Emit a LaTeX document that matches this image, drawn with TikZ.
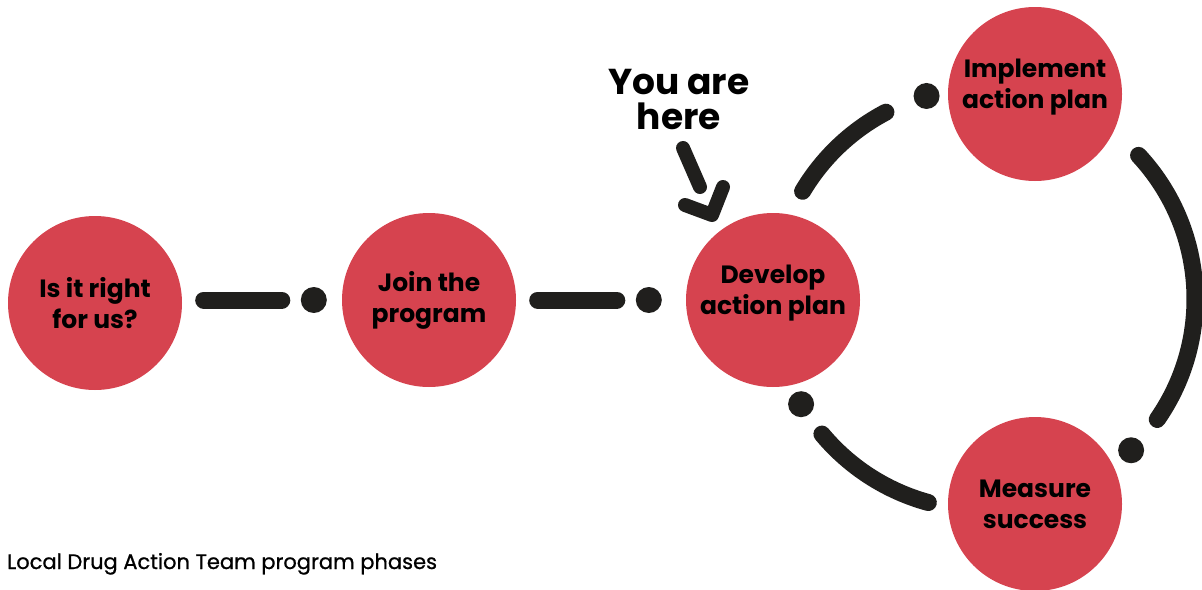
\documentclass[tikz,border=0pt]{standalone}
\usepackage{fontspec}
\setmainfont{Poppins}
\newfontfamily\captionfont[FakeBold=0.8]{Poppins}
\usepackage{tikz}
\usetikzlibrary{positioning}

\definecolor{phasered}{RGB}{214,67,79}
\definecolor{linkblack}{RGB}{32,31,29}

\begin{document}
\begin{tikzpicture}[x=1pt, y=1pt,
    phase/.style={circle, fill=phasered, minimum size=174pt, inner sep=0pt},
    phasetext/.style={font=\bfseries\fontsize{25}{31}\selectfont, align=center, text=black},
    link/.style={draw=linkblack, line width=17pt, line cap=round},
    pointer/.style={draw=linkblack, line width=14pt, line cap=round, line join=round},
    dot/.style={circle, fill=linkblack, minimum size=26pt, inner sep=0pt}]

    \useasboundingbox (0,0) rectangle (1202,-589);

    % phases
    \node[phase] (right) at (95,-303) {};
    \node[phase] (join) at (429,-300) {};
    \node[phase] (develop) at (773,-300) {};
    \node[phase] (implement) at (1035,-94) {};
    \node[phase] (measure) at (1035,-504) {};

    \node[phasetext] (righttext) at (right) {Is it right\\for us?};
    \node[phasetext] (jointext) at (join) {Join the\\program};
    \node[phasetext] (developtext) at ([yshift=7]develop.center) {Develop\\action plan};
    \node[phasetext] (implementtext) at ([yshift=7]implement.center) {Implement\\action plan};
    \node[phasetext] (measuretext) at (measure) {Measure\\success};

    % straight part
    \coordinate (rightout) at ([xshift=21.5]right.east);
    \draw[link] (rightout |- join.west) -- ([xshift=-60]join.west);
    \node[dot] (dotjoin) at ([xshift=-28]join.west) {};
    \draw[link] ([xshift=21.5]join.east) -- ([xshift=-69]develop.west);
    \node[dot] (dotdevelop) at ([xshift=-37]develop.west) {};

    % loop round the last three phases
    \coordinate (loop) at (984,-299);
    \foreach \from/\to/\dotat in {149.3/117.7/105.8, 42.9/-34.8/-45.8, -105.3/-140.2/-150.1} {
        \draw[link] ([shift={(\from:211)}]loop) arc[start angle=\from, end angle=\to, radius=211];
        \node[dot] at ([shift={(\dotat:211)}]loop) {};
    }

    % you are here
    \node[font=\bfseries\fontsize{36}{35}\selectfont, align=center] (here) at (679,-100) {You are\\here};
    \coordinate (hereshaft) at (683,-148);
    \coordinate (heretip) at (712,-215);
    \draw[pointer] (hereshaft) -- ([shift={(-12,28)}]heretip);
    \draw[pointer] ([shift={(-27,10)}]heretip) -- (heretip) -- ([shift={(11,28)}]heretip);

    \node[anchor=base west, inner sep=0pt, font=\captionfont\fontsize{21}{24}\selectfont] (caption) at (7,-569) {Local Drug Action Team program phases};

\end{tikzpicture}
\end{document}
